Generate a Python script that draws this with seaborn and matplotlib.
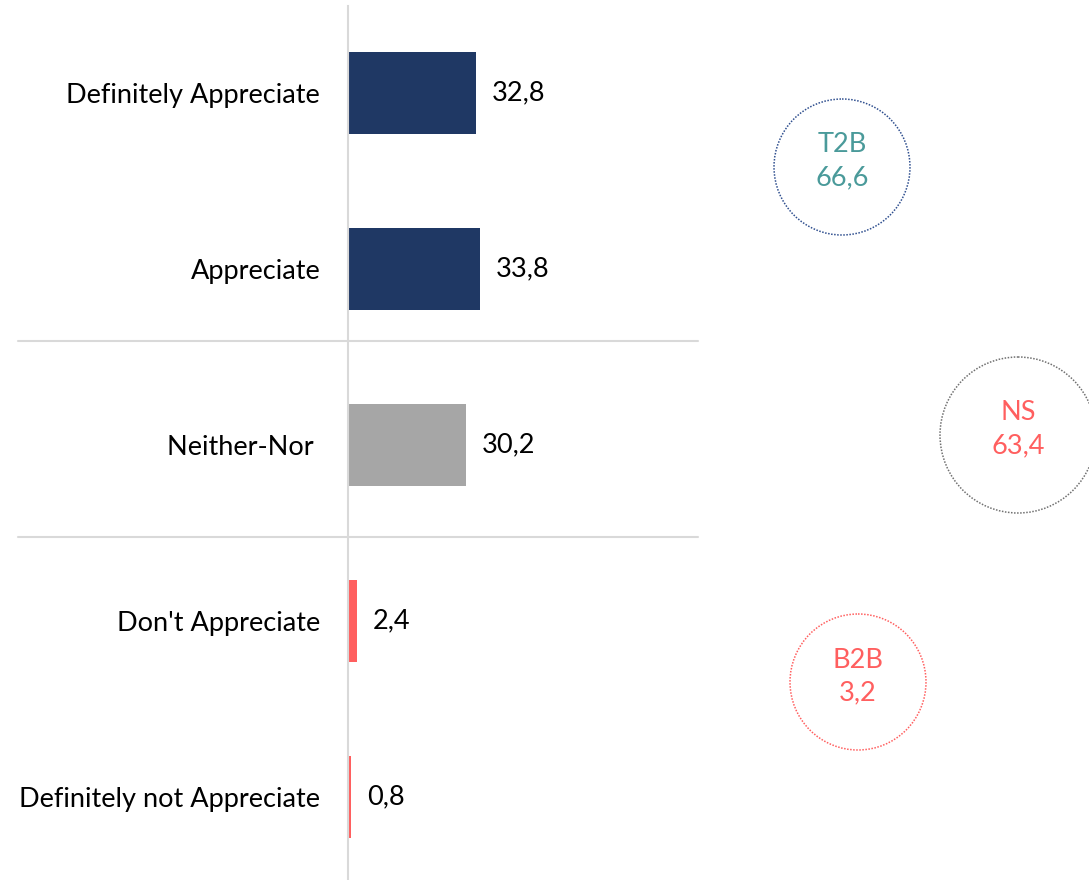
import matplotlib
matplotlib.use("Agg")
import matplotlib.pyplot as plt
from matplotlib.patches import Circle
import seaborn as sns
import pandas as pd

categories = ["Definitely Appreciate", "Appreciate", "Neither-Nor ",
              "Don't Appreciate", "Definitely not Appreciate"]
values = [32.8, 33.8, 30.2, 2.4, 0.8]
bar_colors = ["#1F3864", "#1F3864", "#A6A6A6", "#FF5F5F", "#FF5F5F"]

summary_labels = ["T2B", "NS", "B2B"]
summary_values = [66.6, 63.4, 3.2]

sns.set_theme(style="white")
plt.rcParams['font.family'] = ['Lato', 'DejaVu Sans']

W, H = 1089, 880
fig = plt.figure(figsize=(W / 100, H / 100), dpi=100)

left_px, right_px, top_px, bot_px = 348, 698, 6, 880
ax = fig.add_axes([left_px / W, 1 - bot_px / H, (right_px - left_px) / W, (bot_px - top_px) / H])

df = pd.DataFrame({"cat": categories, "val": values})
sns.barplot(data=df, x="val", y="cat", hue="cat", palette=bar_colors,
            width=0.466, legend=False, ax=ax, saturation=1, linewidth=0)

ax.set_xlim(0, (right_px - left_px) / 3.9)
ax.set_ylim(4.47, -0.494)
ax.set_xlabel("")
ax.set_ylabel("")
ax.set_xticks([])
for s in ["top", "right", "bottom"]:
    ax.spines[s].set_visible(False)
ax.spines["left"].set_color("#D9D9D9")
ax.spines["left"].set_linewidth(1.5)
ax.tick_params(axis="y", length=0, pad=20, labelsize=19.5, labelcolor="black")

for i, v in enumerate(values):
    ax.text(v + 4.0, i, f"{v:.1f}".replace(".", ","), va="center", ha="left",
            fontsize=19.5, color="black")

# separators
for yv in [1.41, 2.52]:
    ax.plot([-330 / 3.9, 1.0 * (right_px - left_px) / 3.9], [yv, yv],
            color="#D9D9D9", lw=1.5, clip_on=False, zorder=0)

# summary circles
ov = fig.add_axes([0, 0, 1, 1])
ov.set_xlim(0, W)
ov.set_ylim(H, 0)
ov.axis("off")
ov.patch.set_alpha(0)
circ_specs = [
    (842, 167, 68, "#2F4F8F", "#4A9A9A"),
    (1018, 435, 78, "#707070", "#FF5F5F"),
    (858, 682, 68, "#FF5F5F", "#FF5F5F"),
]
for (cx, cy, r, ec, tc), lab, val in zip(circ_specs, summary_labels, summary_values):
    ov.add_patch(Circle((cx, cy), r, fill=False, edgecolor=ec, lw=1.1, ls=(0, (1, 1))))
    ov.text(cx, cy - 22, lab, ha="center", va="center", fontsize=19.5, color=tc)
    ov.text(cx, cy + 11, f"{val:.1f}".replace(".", ","), ha="center", va="center",
            fontsize=19.5, color=tc)

fig.savefig("out.png", dpi=100)
